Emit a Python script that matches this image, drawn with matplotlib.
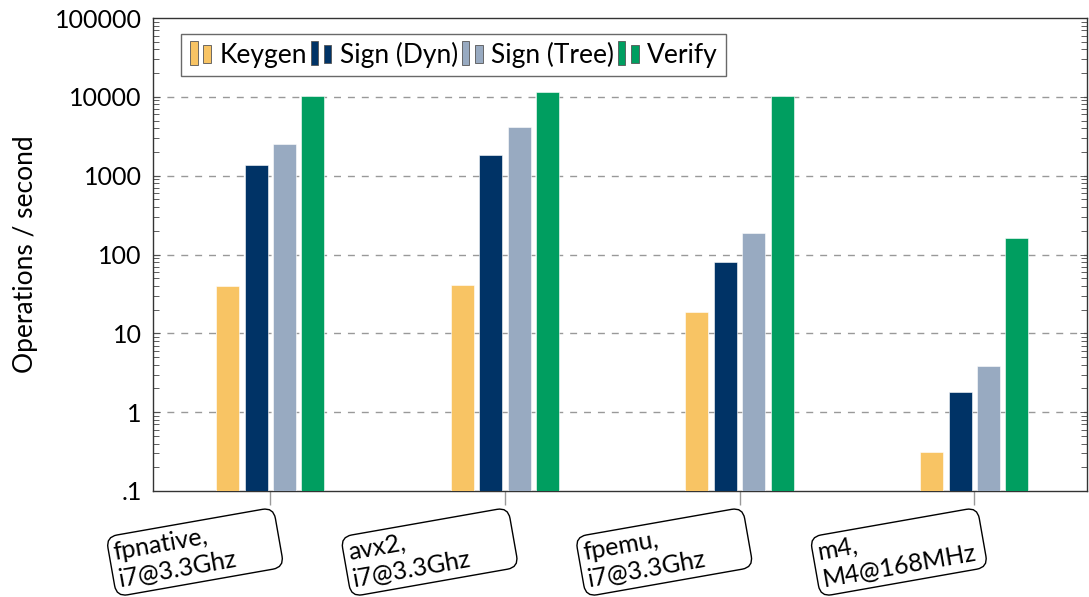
import matplotlib
matplotlib.use("Agg")
import matplotlib.pyplot as plt
import numpy as np
from matplotlib.patches import Rectangle, BoxStyle
from matplotlib.legend_handler import HandlerBase
from matplotlib.ticker import LogLocator, FixedLocator, NullFormatter
from matplotlib.transforms import ScaledTranslation, blended_transform_factory

plt.rcParams['font.family'] = ['Lato', 'DejaVu Sans']

categories = ["fpnative,\ni7@3.3Ghz", "avx2,\ni7@3.3Ghz", "fpemu,\ni7@3.3Ghz", "m4,\nM4@168MHz"]
series_names = ["Keygen", "Sign (Dyn)", "Sign (Tree)", "Verify"]
keygen = [40, 41, 18.7, 0.31]
sign_dyn = [1370, 1840, 80.5, 1.8]
sign_tree = [2530, 4160, 188, 3.86]
verify = [10300, 11560, 10300, 162]
colors = ["#F8C464", "#003366", "#98AAC1", "#009E60"]
ytick_vals = [0.1, 1, 10, 100, 1000, 10000, 100000]
ytick_labels = [".1", "1", "10", "100", "1000", "10000", "100000"]

FS = 18

fig = plt.figure(figsize=(10.89, 5.97), dpi=100)
ax = fig.add_axes([0.1405, 0.1776, 0.998 - 0.1405, 0.9698 - 0.1776])

x = np.arange(len(categories))
width = 0.098
step = 0.121
all_series = [keygen, sign_dyn, sign_tree, verify]
handles = []
for i, (vals, name, c) in enumerate(zip(all_series, series_names, colors)):
    offs = (i - 1.5) * step
    b = ax.bar(x + offs, vals, width, color=c, label=name, zorder=3,
               edgecolor='white', linewidth=0.4)
    handles.append(b)

ax.set_yscale('log')
ax.set_ylim(0.1, 100000)
ax.set_xlim(-0.5, 3.48)
ax.yaxis.set_major_locator(FixedLocator(ytick_vals))
ax.set_yticklabels(ytick_labels)
ax.yaxis.set_minor_locator(LogLocator(base=10, subs=np.arange(2, 10), numticks=20))
ax.yaxis.set_minor_formatter(NullFormatter())
ax.tick_params(axis='y', which='both', direction='in', left=True, right=True,
               labelsize=FS, color='#444444', width=0.6, pad=8)
ax.tick_params(axis='y', which='major', length=5)
ax.tick_params(axis='y', which='minor', length=4)

for v in ytick_vals[1:-1]:
    ax.axhline(v, color='#999999', linestyle=(0, (5, 5)), linewidth=1.0, zorder=1)

ax.set_xticks(x)
ax.set_xticklabels([])
ax.tick_params(axis='x', which='major', direction='out', length=10, color='#999999',
               width=1)

# fixed-width rounded boxes for category labels
BOX_TEXT_W = 160  # pixels of text area


def fixed_round(x0, y0, w, h, mutation_size):
    return BoxStyle.Round(pad=0.2, rounding_size=0.45)(x0, y0, max(w, BOX_TEXT_W), h, mutation_size)


trans_x = blended_transform_factory(ax.transData, ax.transAxes)
off = ScaledTranslation(-1.585, -0.5, fig.dpi_scale_trans)
for xi, lab in zip(x, categories):
    ax.text(xi, 0, lab, transform=trans_x + off, fontsize=FS, rotation=10,
            rotation_mode='anchor', ha='left', va='top', multialignment='left',
            linespacing=1.25, clip_on=False,
            bbox=dict(boxstyle=fixed_round, fc='white', ec='black', lw=1))

for s in ax.spines.values():
    s.set_color('#333333')
    s.set_linewidth(1.0)

ax.set_ylabel("Operations / second", fontsize=FS + 1, labelpad=12)


class TwoBarHandler(HandlerBase):
    def create_artists(self, legend, orig_handle, xdescent, ydescent, width, height, fontsize, trans):
        patch = orig_handle.patches[0] if hasattr(orig_handle, 'patches') else orig_handle
        c = patch.get_facecolor()
        bw = width * 0.28
        r1 = Rectangle((xdescent + width * 0.05, ydescent - height * 0.15), bw, height * 1.3,
                       facecolor=c, edgecolor='#555555', lw=0.6, transform=trans)
        r2 = Rectangle((xdescent + width * 0.55, ydescent + height * 0.0), bw, height * 0.95,
                       facecolor=c, edgecolor='#555555', lw=0.6, transform=trans)
        return [r1, r2]


leg = ax.legend(handles, series_names, loc='upper left', bbox_to_anchor=(0.03, 0.967), ncol=4,
                fontsize=FS + 1, frameon=True, fancybox=False, edgecolor='#444444',
                handler_map={h: TwoBarHandler() for h in handles},
                handlelength=1.0, handletextpad=0.15, columnspacing=0.1, borderpad=0.3,
                borderaxespad=0)
leg.get_frame().set_linewidth(1.0)
leg.set_zorder(5)

fig.savefig("out.png", dpi=100)
